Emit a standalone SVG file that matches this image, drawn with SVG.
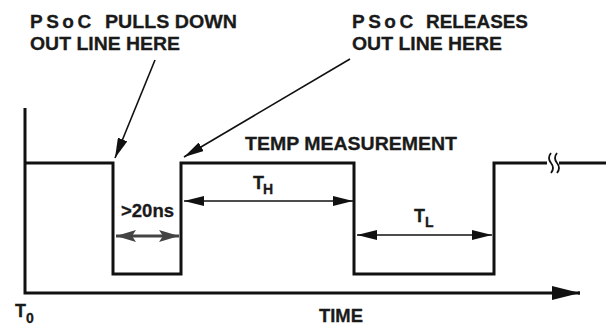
<svg xmlns="http://www.w3.org/2000/svg" width="606" height="327" viewBox="0 0 606 327">
<style>
.t{font-family:"Liberation Sans",Arial,sans-serif;font-weight:bold;fill:#1a1a1a;stroke:#1a1a1a;stroke-width:0.3}
.w{fill:none;stroke:#111;stroke-width:3;stroke-linejoin:miter}
.c{fill:none;stroke:#111;stroke-width:1.6}
.g{fill:none;stroke:#444;stroke-width:3}
</style>
<defs>
<marker id="ah" viewBox="0 0 20 10" refX="20" refY="5" markerWidth="20" markerHeight="10" markerUnits="userSpaceOnUse" orient="auto-start-reverse"><path d="M0,0 L20,5 L0,10 Z" fill="#111"/></marker>
<marker id="ag" viewBox="0 0 20 12" refX="20" refY="6" markerWidth="20" markerHeight="12" markerUnits="userSpaceOnUse" orient="auto-start-reverse"><path d="M0,0 L20,6 L0,12 L4,6 Z" fill="#444"/></marker>
<marker id="ax" viewBox="0 0 28 14" refX="28" refY="7" markerWidth="28" markerHeight="14" markerUnits="userSpaceOnUse" orient="auto"><path d="M0,0 L28,7 L0,14 Z" fill="#111"/></marker>
</defs>
<g id="axes">
<polyline class="w" points="25,108 25,293 580,293"/>
<line x1="578" y1="293" x2="580" y2="293" stroke="#111" stroke-width="3" marker-end="url(#ax)"/>
</g>
<g id="waveform">
<polyline class="w" points="25,163 113,163 113,274 181,274 181,163 354,163 354,274 494,274 494,163 547,163"/>
<line x1="559" y1="163" x2="606" y2="163" stroke="#111" stroke-width="3"/>
<path d="M551,153 q-4,5 0,10 q4,5 0,10 M557,153 q-4,5 0,10 q4,5 0,10" fill="none" stroke="#111" stroke-width="1.8"/>
</g>
<g id="connectors">
<line class="c" x1="155" y1="60" x2="115" y2="158" marker-end="url(#ah)"/>
<line class="c" x1="350" y1="59" x2="184" y2="157" marker-end="url(#ah)"/>
<line class="c" x1="184" y1="201" x2="353" y2="201" marker-start="url(#ah)" marker-end="url(#ah)"/>
<line class="c" x1="357" y1="235" x2="492" y2="235" marker-start="url(#ah)" marker-end="url(#ah)"/>
<line class="g" x1="116" y1="236" x2="179" y2="236" marker-start="url(#ag)" marker-end="url(#ag)"/>
</g>
<g id="label-pulls">
<text class="t" x="30" y="28" font-size="19" letter-spacing="3.5" fill="#000">PSoC</text>
<text class="t" x="105" y="28" font-size="19" textLength="132" lengthAdjust="spacingAndGlyphs">PULLS DOWN</text>
<text class="t" x="30" y="50" font-size="19" textLength="150" lengthAdjust="spacingAndGlyphs">OUT LINE HERE</text>
</g>
<g id="label-releases">
<text class="t" x="352" y="28" font-size="19" letter-spacing="3.5" fill="#000">PSoC</text>
<text class="t" x="426" y="28" font-size="19" textLength="102" lengthAdjust="spacingAndGlyphs">RELEASES</text>
<text class="t" x="352" y="50" font-size="19" textLength="150" lengthAdjust="spacingAndGlyphs">OUT LINE HERE</text>
</g>
<g id="label-temp">
<text class="t" x="245" y="150" font-size="19" textLength="212" lengthAdjust="spacingAndGlyphs">TEMP MEASUREMENT</text>
</g>
<g id="label-20ns">
<text class="t" x="121" y="217" font-size="18" textLength="53" lengthAdjust="spacingAndGlyphs">&gt;20ns</text>
</g>
<g id="label-th">
<text class="t" x="253" y="189" font-size="18">T</text>
<text class="t" x="263" y="194" font-size="14">H</text>
</g>
<g id="label-tl">
<text class="t" x="414" y="222" font-size="18">T</text>
<text class="t" x="425" y="227" font-size="14">L</text>
</g>
<g id="label-t0">
<text class="t" x="15" y="317" font-size="18">T</text>
<text class="t" x="26" y="323" font-size="14">0</text>
</g>
<g id="label-time">
<text class="t" x="319" y="322" font-size="18" textLength="44" lengthAdjust="spacingAndGlyphs">TIME</text>
</g>
</svg>
